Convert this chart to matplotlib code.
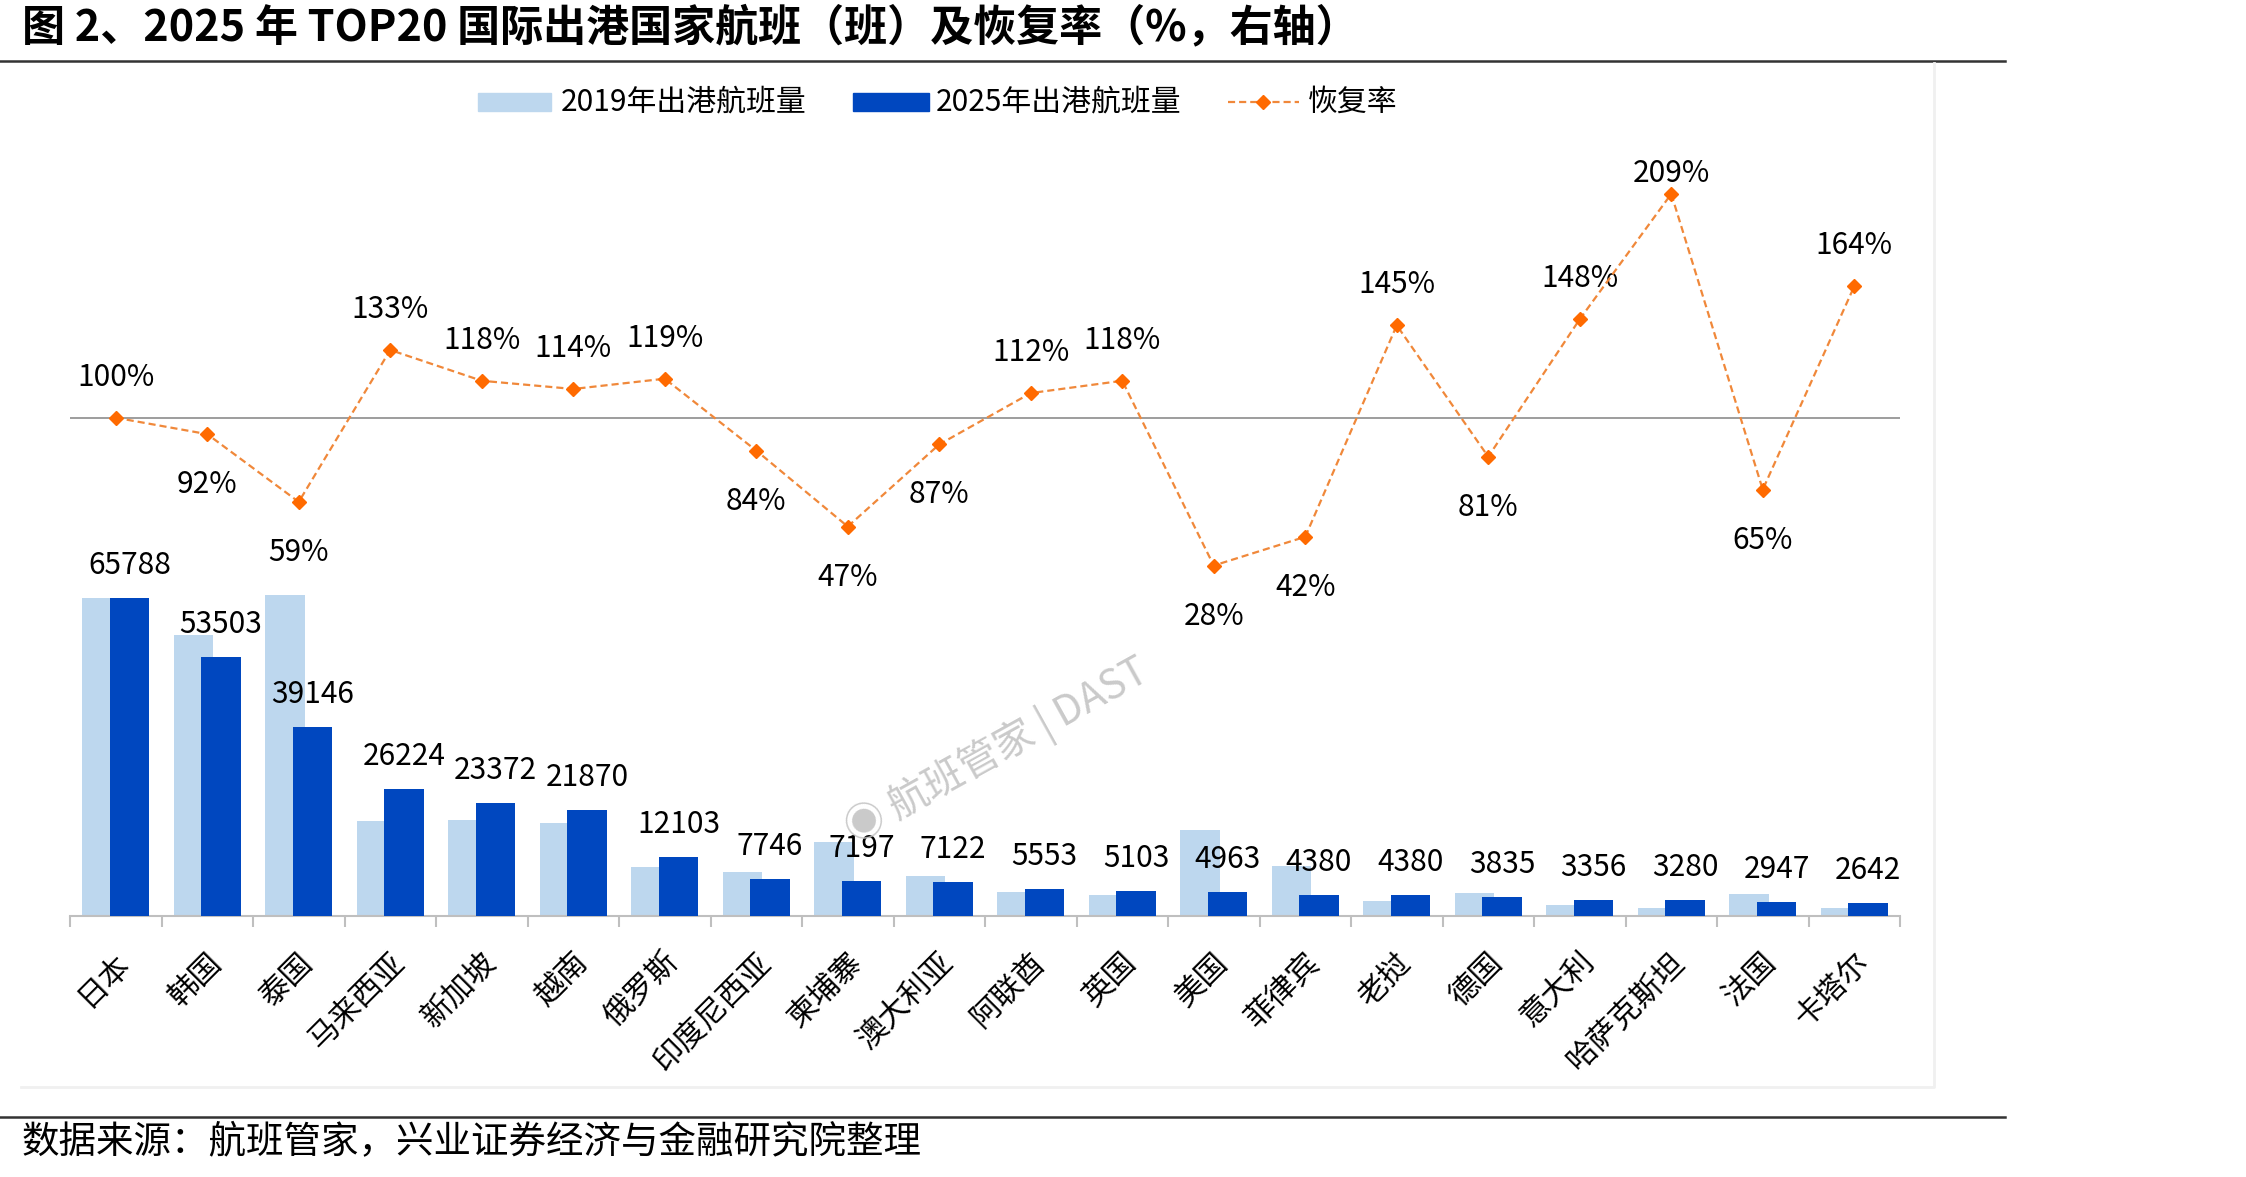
import numpy as np
import matplotlib
matplotlib.use("Agg")
import matplotlib.pyplot as plt
from matplotlib.lines import Line2D
from matplotlib.patches import Rectangle

plt.rcParams['font.family'] = ['Noto Sans CJK SC', 'DejaVu Sans']

# ---------------- data ----------------
countries = ['日本', '韩国', '泰国', '马来西亚', '新加坡', '越南', '俄罗斯', '印度尼西亚',
             '柬埔寨', '澳大利亚', '阿联酋', '英国', '美国', '菲律宾', '老挝', '德国',
             '意大利', '哈萨克斯坦', '法国', '卡塔尔']
flights_2019 = [65800, 58200, 66300, 19700, 19800, 19200, 10200, 9200, 15300, 8200,
                5000, 4300, 17700, 10400, 3000, 4700, 2300, 1600, 4500, 1600]
flights_2025 = [65788, 53503, 39146, 26224, 23372, 21870, 12103, 7746, 7197, 7122,
                5553, 5103, 4963, 4380, 4380, 3835, 3356, 3280, 2947, 2642]
recovery = [100, 92, 59, 133, 118, 114, 119, 84, 47, 87, 112, 118, 28, 42, 145, 81,
            148, 209, 65, 164]

legend_labels = ['2019年出港航班量', '2025年出港航班量', '恢复率']
title = '图 2、2025 年 TOP20 国际出港国家航班（班）及恢复率（%，右轴）'
source = '数据来源：航班管家，兴业证券经济与金融研究院整理'

# ---------------- style ----------------
W, H = 2246, 1177
C19 = '#BDD7EE'
C25 = '#0047BF'
CLINE = '#F0883A'
CMARK = '#FF6A00'
GRAY_AX = '#BFBFBF'

fig = plt.figure(figsize=(W / 100, H / 100), dpi=100)

def fx(px):
    return px / W

def fy(py):
    return 1 - py / H

# axes placement (pixel coordinates of reference)
x0, x1 = 70, 1900
ytop, ybot = 111, 916
ax = fig.add_axes([fx(x0), fy(ybot), fx(x1) - fx(x0), fy(ytop) - fy(ybot)])
ax.set_facecolor('none')

n = len(countries)
x = np.arange(n)
bw = 0.43
off = 0.15
ax.bar(x - off, flights_2019, width=bw, color=C19, zorder=2)
ax.bar(x + off, flights_2025, width=bw, color=C25, zorder=3)

ax.set_xlim(-0.5, n - 0.5)
ax.set_ylim(0, 166500)
for s in ['top', 'left', 'right']:
    ax.spines[s].set_visible(False)
ax.spines['bottom'].set_color(GRAY_AX)
ax.spines['bottom'].set_linewidth(1.5)
ax.set_yticks([])
ax.set_xticks(x)
ax.set_xticklabels([])
ax.tick_params(axis='x', which='major', length=0)
ax.set_xticks(np.arange(-0.5, n, 1), minor=True)
ax.tick_params(axis='x', which='minor', length=8, width=1.5, color=GRAY_AX, direction='out')

# bar value labels
for i, v in enumerate(flights_2025):
    ax.annotate(f'{v}', xy=(i + off, v), xytext=(0, 24), textcoords='offset pixels',
                ha='center', va='baseline', fontsize=21.5, color='#000000', zorder=5)

# category labels
for i, c in enumerate(countries):
    ax.annotate(c, xy=(i, 0), xycoords=('data', 'axes fraction'), xytext=(10, -42),
                textcoords='offset pixels', rotation=45, ha='right', va='center',
                rotation_mode='anchor', fontsize=22, color='#000000')

# secondary axis
ax2 = ax.twinx()
ax2.set_position(ax.get_position())
ax2.set_ylim(-142.7, 249.4)
for s in ax2.spines.values():
    s.set_visible(False)
ax2.set_yticks([])
ax2.axhline(100, color='#8C8C8C', lw=1.2, zorder=1)
ax2.plot(x, recovery, color=CLINE, lw=1.6, dashes=(3.2, 1.8), marker='D', markersize=7,
         markerfacecolor=CMARK, markeredgecolor=CMARK, zorder=4)

fig.canvas.draw()
top_limit_disp = H - 182  # label baseline must stay below plot top
for i, r in enumerate(recovery):
    px, py = ax2.transData.transform((i, r))
    if r >= 100:
        dy = min(32, top_limit_disp - py)
    else:
        dy = -59
    ax2.annotate(f'{r}%', xy=(i, r), xytext=(0, dy), textcoords='offset pixels',
                 ha='center', va='baseline', fontsize=21.5, color='#000000')

# watermark
fig.text(fx(997), fy(752), '◉ 航班管家 | DAST', rotation=29, ha='center', va='center',
         fontsize=29, color='#C4C4C4', alpha=0.9)

# legend (manual)
ly = 102
fig.patches.append(Rectangle((fx(478), fy(111)), fx(551) - fx(478), fy(93) - fy(111),
                             transform=fig.transFigure, color=C19))
fig.text(fx(561), fy(ly), legend_labels[0], fontsize=21.5, va='center', ha='left')
fig.patches.append(Rectangle((fx(853), fy(111)), fx(929) - fx(853), fy(93) - fy(111),
                             transform=fig.transFigure, color=C25))
fig.text(fx(936), fy(ly), legend_labels[1], fontsize=21.5, va='center', ha='left')
fig.add_artist(Line2D([fx(1228), fx(1299)], [fy(ly), fy(ly)], transform=fig.transFigure,
                      color=CLINE, lw=1.6, dashes=(3.2, 1.8)))
fig.add_artist(Line2D([fx(1263)], [fy(ly)], transform=fig.transFigure, marker='D',
                      markersize=7, color=CMARK, lw=0))
fig.text(fx(1308), fy(ly), legend_labels[2], fontsize=21.5, va='center', ha='left')

# title and rules
fig.text(fx(22), fy(27), title, fontsize=31, fontweight='bold', va='center', ha='left')
fig.add_artist(Line2D([0, fx(2005)], [fy(61), fy(61)], transform=fig.transFigure,
                      color='#333333', lw=1.8))
fig.add_artist(Line2D([0, fx(2005)], [fy(1117), fy(1117)], transform=fig.transFigure,
                      color='#333333', lw=1.8))
# faint chart frame
fig.add_artist(Line2D([fx(21), fx(1934), fx(1934)], [fy(1087), fy(1087), fy(63)],
                      transform=fig.transFigure, color='#F0F0F0', lw=2))

fig.text(fx(22), fy(1143), source, fontsize=27, va='center', ha='left')

fig.savefig('out.png', dpi=100)
